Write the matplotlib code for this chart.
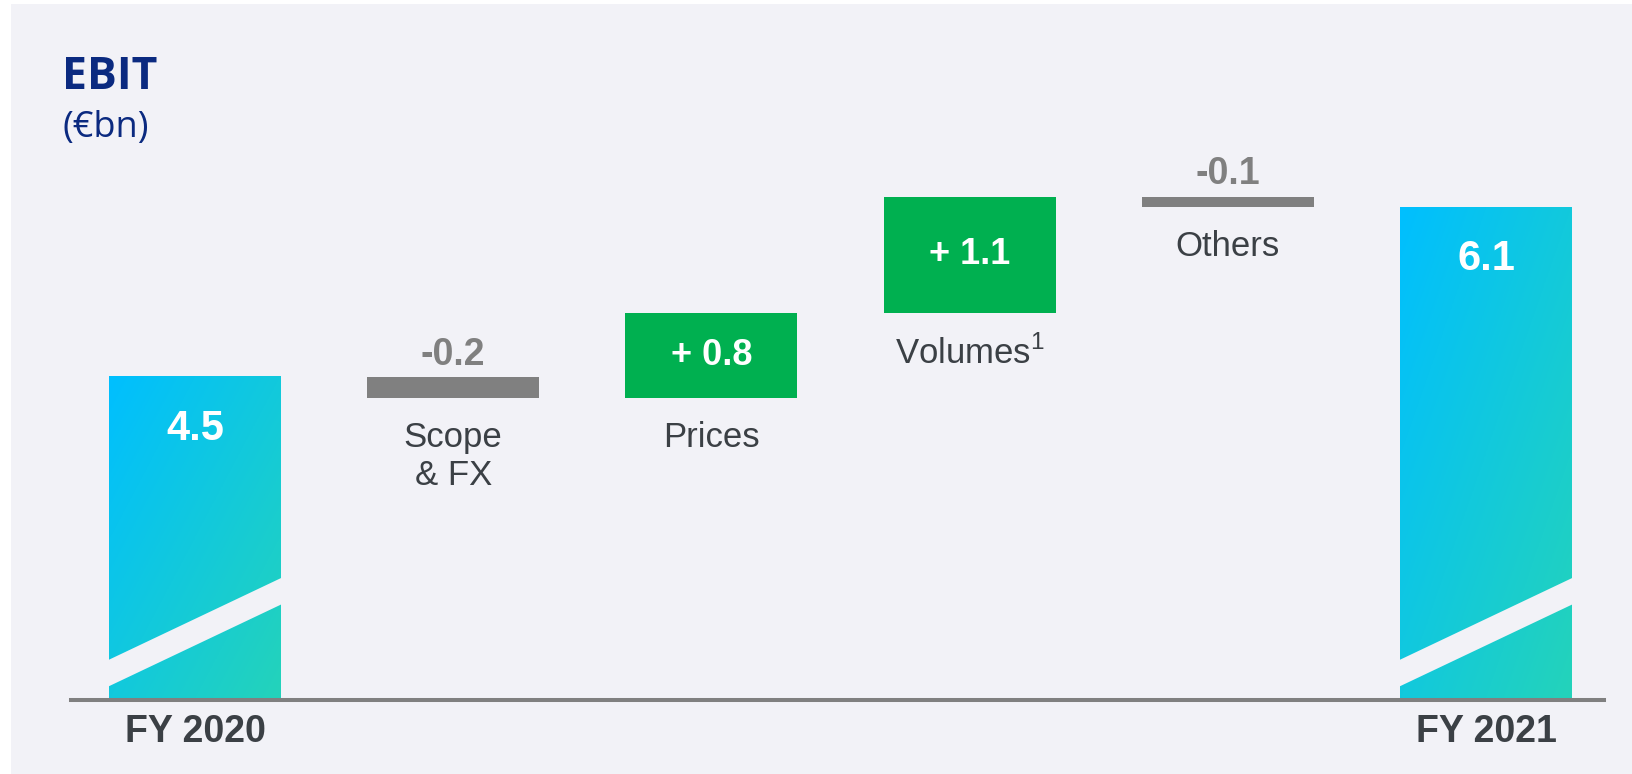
import numpy as np
import matplotlib.pyplot as plt
from matplotlib.patches import Rectangle, Polygon
from matplotlib.colors import LinearSegmentedColormap

plt.rcParams['font.family'] = ['Liberation Sans', 'DejaVu Sans']
plt.rcParams['mathtext.fontset'] = 'custom'
plt.rcParams['mathtext.rm'] = 'Liberation Sans'

# EBIT bridge, €bn
categories = ['FY 2020', 'Scope\n& FX', 'Prices', r'Volumes$^{\mathregular{1}}$', 'Others', 'FY 2021']
ebit_2020 = 4.5
changes = [-0.2, 0.8, 1.1, -0.1]
ebit_2021 = 6.1
change_labels = ['-0.2', '+ 0.8', '+ 1.1', '-0.1']

bg = '#F2F2F7'
navy = '#0B2A80'
green = '#00B050'
grey = '#808080'
text_col = '#3B4045'

W, H = 1632, 774
fig = plt.figure(figsize=(W / 100, H / 100), dpi=100, facecolor='white')
fig.patches.append(Rectangle((11 / W, 0), 1, (H - 4) / H, transform=fig.transFigure,
                             facecolor=bg, edgecolor='none', zorder=-10))

ax = fig.add_axes([71 / W, (H - 700) / H, (1604 - 71) / W, 600 / H])
ax.set_facecolor('none')
ax.axis('off')

base = 1.45  # axis is cut, totals start from here
w = 0.666

cmap = LinearSegmentedColormap.from_list('ebit', ['#00BFFF', '#24D3BA'])
uu, vv = np.meshgrid(np.linspace(0, 1, 100), np.linspace(0, 1, 300))
grad = (uu + (1 - vv)) / 2

totals = [(0, ebit_2020), (len(categories) - 1, ebit_2021)]
for x, v in totals:
    ax.imshow(grad, cmap=cmap, vmin=0, vmax=1, extent=[x - w / 2, x + w / 2, base, v],
              origin='lower', aspect='auto', interpolation='bilinear', zorder=2)
    # diagonal cut showing the broken axis
    xl, xr = x - w / 2, x + w / 2
    lo_l, lo_r, hi_l, hi_r = 0.13, 0.90, 0.38, 1.15
    s = (lo_r - lo_l) / w
    e = 0.03
    cut = Polygon([(xl - e, base + lo_l - s * e), (xr + e, base + lo_r + s * e),
                   (xr + e, base + hi_r + s * e), (xl - e, base + hi_l - s * e)],
                  closed=True, facecolor=bg, edgecolor='none', zorder=3)
    ax.add_patch(cut)
    ax.annotate(f'{v:.1f}', xy=(x, v), xytext=(0, -23), textcoords='offset points',
                ha='center', va='top', fontsize=30, weight='bold', color='white', zorder=5)

running = ebit_2020
for i, d in enumerate(changes):
    x = i + 1
    col = green if d > 0 else grey
    ax.bar(x, d, bottom=running, width=w, color=col, zorder=2)
    top = max(running, running + d)
    low = min(running, running + d)
    if d > 0:
        ax.text(x, running + d / 2, change_labels[i], ha='center', va='center',
                fontsize=26, weight='bold', color='white', zorder=5)
    else:
        ax.annotate(change_labels[i], xy=(x, top), xytext=(0, 3), textcoords='offset points',
                    ha='center', va='bottom', fontsize=27, weight='bold', color=grey)
    ax.annotate(categories[x], xy=(x, low), xytext=(0, -16.5), textcoords='offset points',
                ha='center', va='top', fontsize=25, color=text_col, linespacing=1.2)
    running += d

for x, v in totals:
    ax.annotate(categories[x], xy=(x, base), xytext=(0, -10), textcoords='offset points',
                ha='center', va='top', fontsize=27, weight='bold', color=text_col)

ax.axhline(base, color=grey, lw=2.9, zorder=4, clip_on=False)
ax.set_xlim(-0.48, 5.457)
ax.set_ylim(base, base + 600 / 106)

fig.text(62 / W, 1 - 89 / H, 'EBIT', fontsize=32, weight='bold', color=navy,
         va='baseline', family=['Open Sans', 'DejaVu Sans'])
fig.text(63 / W, 1 - 137 / H, '(€bn)', fontsize=26, color=navy,
         va='baseline', family=['Open Sans', 'DejaVu Sans'])

fig.savefig('out.png', dpi=100, facecolor=fig.get_facecolor())
